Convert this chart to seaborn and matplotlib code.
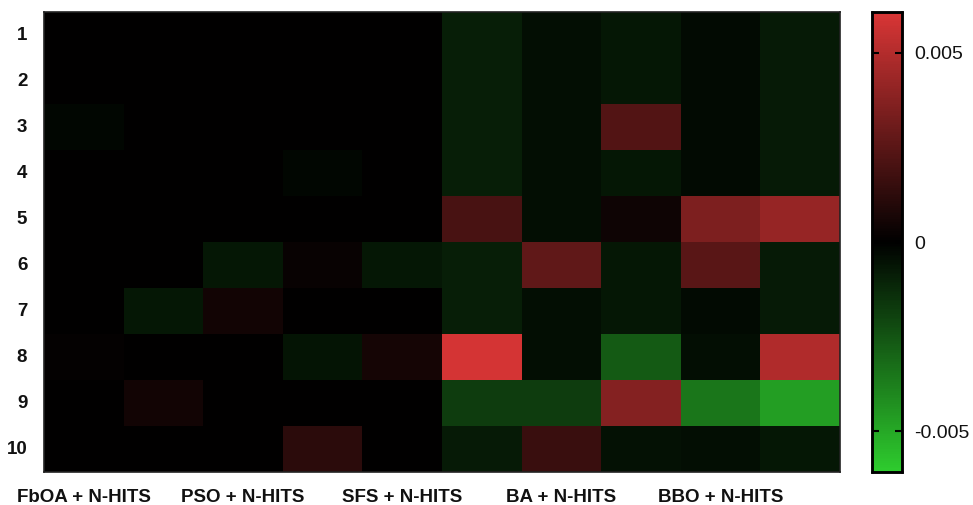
import numpy as np
import pandas as pd
import matplotlib
matplotlib.use("Agg")
import matplotlib.pyplot as plt
from matplotlib.colors import LinearSegmentedColormap
import seaborn as sns

sns.set_theme(style="white")
plt.rcParams["font.family"] = ["Liberation Sans", "DejaVu Sans"]

rows = [str(i) for i in range(1, 11)]
methods = ["FbOA + N-HITS", "PSO + N-HITS", "SFS + N-HITS", "BA + N-HITS", "BBO + N-HITS"]

# one list per column of the grid (rows 1..10)
c1 = [0.0, 0.0, -0.00015, 0.0, 0.0, 0.0, 0.0, 0.0001, 0.0, 0.0]
c2 = [0.0, 0.0, 0.0, 0.0, 0.0, 0.0, -0.0007, 0.0, 0.0005, 0.0]
c3 = [0.0, 0.0, 0.0, 0.0, 0.0, -0.0007, 0.0005, 0.0, 0.0, 0.0]
c4 = [0.0, 0.0, 0.0, -0.00015, 0.0, 0.0002, 0.0, -0.0006, 0.0, 0.0012]
c5 = [0.0, 0.0, 0.0, 0.0, 0.0, -0.0007, 0.0, 0.0006, 0.0, 0.0]
c6 = [-0.0009, -0.0009, -0.0009, -0.0009, 0.0020, -0.0009, -0.0009, 0.0059, -0.0018, -0.0008]
c7 = [-0.0004, -0.0004, -0.0004, -0.0004, -0.0004, 0.0027, -0.0004, -0.0004, -0.0018, 0.0016]
c8 = [-0.0007, -0.0007, 0.0023, -0.0007, 0.0004, -0.0007, -0.0007, -0.0027, 0.0037, -0.0005]
c9 = [-0.0003, -0.0003, -0.0003, -0.0003, 0.0035, 0.0025, -0.0003, -0.0004, -0.0035, -0.0004]
c10 = [-0.0008, -0.0008, -0.0008, -0.0008, 0.0042, -0.0008, -0.0008, 0.0049, -0.0047, -0.0007]

data = pd.DataFrame(np.column_stack([c1, c2, c3, c4, c5, c6, c7, c8, c9, c10]), index=rows)

cmap = LinearSegmentedColormap.from_list(
    "green_black_red", [(0.18, 0.80, 0.18), (0.0, 0.0, 0.0), (0.85, 0.21, 0.21)]
)
vlim = 0.00608

fig = plt.figure(figsize=(9.73, 5.05), dpi=100)
ax = fig.add_axes([0.0452, 0.0653, 0.8181, 0.9107])
cax = fig.add_axes([0.8962, 0.0653, 0.0308, 0.9107])

sns.heatmap(data, ax=ax, cbar_ax=cax, cmap=cmap, vmin=-vlim, vmax=vlim, center=0,
            xticklabels=False, yticklabels=rows,
            cbar_kws={"ticks": [-0.005, 0, 0.005]})

ax.set_xticks(np.arange(len(methods)) * 2 + 0.5)
ax.set_xticklabels(methods, fontsize=13.5, fontweight="bold", color="#111111")
ax.set_yticklabels(rows, rotation=0, fontsize=13.5, fontweight="bold", color="#111111")
ax.tick_params(axis="x", length=0, pad=12)
ax.tick_params(axis="y", length=0, pad=12)
for side in ax.spines.values():
    side.set_visible(True)
    side.set_color("#222222")
    side.set_linewidth(1.2)

# colorbar: ticks drawn on top of the gradient, on both edges
cax.set_axisbelow(False)
cax.set_yticklabels(["-0.005", "0", "0.005"])
cax.tick_params(axis="y", direction="in", length=5, width=1.5, color="black",
                labelsize=14, labelcolor="#111111", pad=9, left=True, right=True)
for side in cax.spines.values():
    side.set_visible(True)
    side.set_color("black")
    side.set_linewidth(1.8)
    side.set_zorder(5)

fig.savefig("out.png", dpi=100)
